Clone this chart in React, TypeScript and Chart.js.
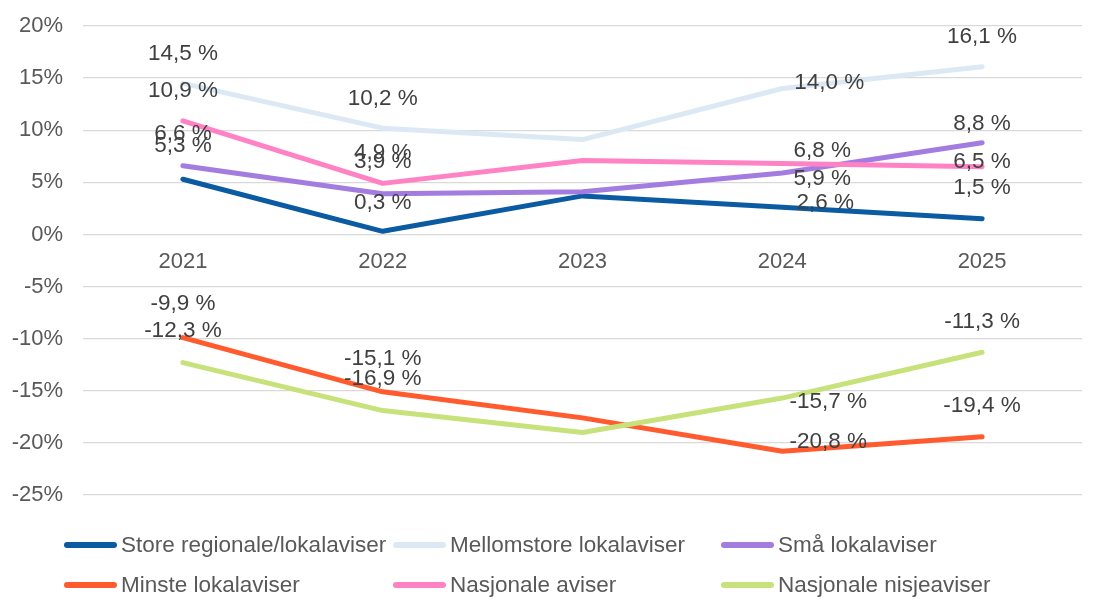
import React, { useEffect, useRef } from "react";
import { Chart, registerables } from "chart.js";

Chart.register(...registerables);

const categories = ["2021", "2022", "2023", "2024", "2025"];

const seriesNames = [
  "Store regionale/lokalaviser",
  "Mellomstore lokalaviser",
  "Små lokalaviser",
  "Minste lokalaviser",
  "Nasjonale aviser",
  "Nasjonale nisjeaviser",
];

const storeRegionale = [5.3, 0.3, 3.7, 2.6, 1.5];
const mellomstore = [14.5, 10.2, 9.1, 14.0, 16.1];
const smaa = [6.6, 3.9, 4.1, 5.9, 8.8];
const minste = [-9.9, -15.1, -17.6, -20.8, -19.4];
const nasjonale = [10.9, 4.9, 7.1, 6.8, 6.5];
const nisje = [-12.3, -16.9, -19.0, -15.7, -11.3];

const seriesValues = [storeRegionale, mellomstore, smaa, minste, nasjonale, nisje];

const seriesColors = ["#0B5BA3", "#DCE9F5", "#A37CE0", "#FF5B2E", "#FF82C4", "#C8E27B"];

const yTicks = [20, 15, 10, 5, 0, -5, -10, -15, -20, -25];

// label offsets (dx, dy) in pixels relative to each point; null = no label
const labelOffsets: (number[] | null)[][] = [
  [[0, -33], [0, -29], null, [43, -5], [0, -31]],
  [[0, -30], [0, -29], null, [47, -6], [0, -30]],
  [[0, -32], [0, -32], null, [40, 6], [0, -19]],
  [[0, -34], [0, -33], null, [46, -9], [0, -31]],
  [[0, -30], [0, -31], null, [40, -13], [0, -5]],
  [[0, -32], [0, -32], null, [46, 4], [0, -30]],
];

const FONT = "'Liberation Sans', Arial, sans-serif";

const legendCols = [64, 393, 721];
const legendRows = [545, 585];

const dataLabelPlugin = {
  id: "dataLabels",
  afterDatasetsDraw(chart: any) {
    const ctx = chart.ctx;
    ctx.save();
    ctx.font = `22.5px ${FONT}`;
    ctx.fillStyle = "#404040";
    ctx.textAlign = "center";
    ctx.textBaseline = "middle";
    chart.data.datasets.forEach((ds: any, di: number) => {
      const meta = chart.getDatasetMeta(di);
      meta.data.forEach((pt: any, i: number) => {
        const off = labelOffsets[di][i];
        if (!off) return;
        const v = ds.data[i] as number;
        const txt = v.toFixed(1).replace(".", ",") + " %";
        ctx.fillText(txt, pt.x + off[0], pt.y + off[1]);
      });
    });
    ctx.restore();
  },
};

export default function App() {
  const ref = useRef<HTMLCanvasElement | null>(null);

  useEffect(() => {
    if (!ref.current) return;
    const chart = new Chart(ref.current, {
      type: "line",
      data: {
        labels: categories,
        datasets: seriesNames.map((name, i) => ({
          label: name,
          data: seriesValues[i],
          borderColor: seriesColors[i],
          backgroundColor: seriesColors[i],
          borderWidth: 5,
          borderCapStyle: "round" as const,
          borderJoinStyle: "round" as const,
          pointRadius: 0,
          pointHoverRadius: 0,
          tension: 0,
          fill: false,
          order: seriesNames.length - i,
        })),
      },
      options: {
        animation: false,
        responsive: false,
        devicePixelRatio: 1,
        layout: { padding: { left: 0, right: 26, top: 26, bottom: 113 } },
        plugins: {
          legend: { display: false },
          tooltip: { enabled: false },
        },
        scales: {
          x: {
            position: { y: 0 } as any,
            offset: true,
            grid: { display: false, drawTicks: false },
            border: { display: false },
            ticks: {
              color: "#595959",
              font: { family: FONT, size: 22 },
              padding: 14,
              maxRotation: 0,
            },
          },
          y: {
            min: -25,
            max: 20,
            afterFit: (scale: any) => {
              scale.width = 83;
              scale.paddingTop = 0;
              scale.paddingBottom = 0;
            },
            afterBuildTicks: (scale: any) => {
              scale.ticks = yTicks.map((v) => ({ value: v }));
            },
            grid: { color: "#D9D9D9", lineWidth: 1.3, drawTicks: false },
            border: { display: false },
            ticks: {
              color: "#595959",
              font: { family: FONT, size: 22 },
              padding: 20,
              callback: (v: any) => `${v}%`,
            },
          },
        },
      },
      plugins: [dataLabelPlugin],
    });
    return () => chart.destroy();
  }, []);

  return (
    <div style={{ position: "absolute", left: 0, top: 0, width: 1108, height: 608, background: "#fff" }}>
      <canvas ref={ref} width={1108} height={608} style={{ display: "block" }} />
      {seriesNames.map((name, i) => {
        const col = legendCols[i % 3];
        const row = legendRows[Math.floor(i / 3)];
        return (
          <div
            key={name}
            style={{
              position: "absolute",
              left: col,
              top: row - 15,
              height: 30,
              display: "flex",
              alignItems: "center",
              fontFamily: FONT,
              fontSize: 22.5,
              color: "#595959",
              whiteSpace: "nowrap",
            }}
          >
            <span
              style={{
                display: "inline-block",
                width: 53,
                height: 6,
                borderRadius: 3,
                background: seriesColors[i],
                marginRight: 4,
              }}
            />
            <span>{name}</span>
          </div>
        );
      })}
    </div>
  );
}
